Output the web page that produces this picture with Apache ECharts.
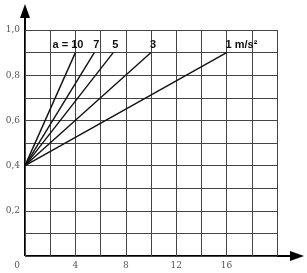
<!DOCTYPE html>
<html><head><meta charset="utf-8">
<script src="https://cdn.jsdelivr.net/npm/echarts@6/dist/echarts.min.js"></script>
<style>html,body{margin:0;padding:0;background:#fff}#c{width:307px;height:273px}</style>
</head><body><div id="c"></div>
<script>
// accelerations (m/s^2) and the x value where each line reaches y = 0.9
const accelLabels = ['a = 10', '7', '5', '3', '1 m/s²'];
const startX = [0, 0, 0, 0, 0];
const startY = [0.4, 0.4, 0.4, 0.4, 0.4];
const endX = [4, 5.5, 7, 10, 16];
const endY = [0.9, 0.9, 0.9, 0.9, 0.9];
const xTicks = [0, 4, 8, 12, 16];

const chart = echarts.init(document.getElementById('c'));
const series = accelLabels.map((lab, i) => ({
  type: 'line',
  data: [[startX[i], startY[i]], [endX[i], endY[i]]],
  showSymbol: false,
  symbol: 'none',
  lineStyle: { color: '#111', width: 1.4 },
  silent: true,
  markPoint: {
    symbol: 'circle', symbolSize: 0,
    data: [{ coord: [endX[i], endY[i]] }],
    label: {
      show: true, formatter: lab, color: '#111', fontSize: 11, fontWeight: 'bold',
      fontFamily: 'Liberation Sans, Arial, sans-serif',
      position: 'top', distance: 2,
      align: i === 0 ? 'right' : 'left',
      offset: i === 0 ? [8, 0] : [-1, 0]
    }
  }
}));

chart.setOption({
  animation: false,
  grid: { left: 25, right: 30, top: 30, bottom: 17, containLabel: false },
  xAxis: {
    type: 'value', min: 0, max: 20, interval: 2,
    axisLine: { show: false }, axisTick: { show: false },
    splitLine: { show: true, lineStyle: { color: '#444', width: 1 } },
    axisLabel: {
      color: '#555', fontSize: 9, margin: 5,
      fontFamily: 'DejaVu Serif, serif',
      formatter: v => (xTicks.indexOf(v) >= 0 ? (v === 0 ? '{o|0}' : String(v)) : ''),
      rich: { o: { padding: [0, 16, 0, 0], color: '#555', fontSize: 9, fontFamily: 'DejaVu Serif, serif' } }
    }
  },
  yAxis: {
    type: 'value', min: 0, max: 1, interval: 0.1,
    axisLine: { show: false }, axisTick: { show: false },
    splitLine: { show: true, lineStyle: { color: '#444', width: 1 } },
    axisLabel: {
      color: '#555', fontSize: 9, margin: 5,
      fontFamily: 'DejaVu Serif, serif',
      formatter: v => {
        const k = Math.round(v * 10);
        if (k === 0 || k % 2 !== 0) return '';
        return (k / 10).toFixed(1).replace('.', ',');
      }
    }
  },
  series: series,
  graphic: [
    { type: 'line', shape: { x1: 25, y1: 256, x2: 296, y2: 256 }, style: { stroke: '#000', lineWidth: 2 } },
    { type: 'polygon', shape: { points: [[304, 256], [290, 251], [290, 261]] }, style: { fill: '#000' } },
    { type: 'line', shape: { x1: 25, y1: 256, x2: 25, y2: 12 }, style: { stroke: '#000', lineWidth: 2 } },
    { type: 'polygon', shape: { points: [[25, 4], [20, 18], [30, 18]] }, style: { fill: '#000' } }
  ]
});
</script></body></html>
